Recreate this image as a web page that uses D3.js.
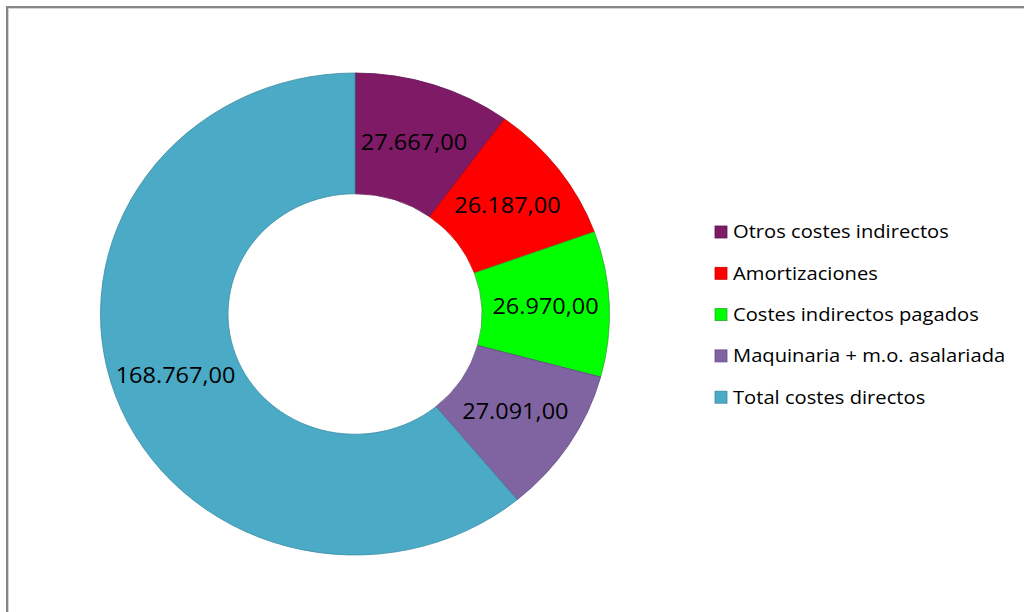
<!DOCTYPE html>
<html>
<head>
<meta charset="utf-8">
<script src="https://cdn.jsdelivr.net/npm/d3@7"></script>
<style>
  html, body { margin: 0; padding: 0; background: #fff; }
  svg { display: block; }
  text { font-family: "Open Sans", "Noto Sans", sans-serif; fill: #000; }
</style>
</head>
<body>
<svg id="chart" width="1024" height="612"></svg>
<script>
// Cost breakdown (euros), clockwise from twelve o'clock
const categories = [
  "Otros costes indirectos",
  "Amortizaciones",
  "Costes indirectos pagados",
  "Maquinaria + m.o. asalariada",
  "Total costes directos"
];
const values = [27667, 26187, 26970, 27091, 168767];
const colors = ["#7E1A66", "#FF0000", "#00FF00", "#8064A2", "#4BAAC5"];
const edgeColors = ["#5E1250", "#C80000", "#2EA82E", "#5F4A7E", "#3A8CA3"];

const svg = d3.select("#chart");

// Chart frame
svg.append("rect")
  .attr("x", 7).attr("y", 7).attr("width", 1040).attr("height", 640)
  .attr("fill", "none").attr("stroke", "#868686").attr("stroke-width", 2);
svg.append("rect")
  .attr("x", 8.5).attr("y", 8.5).attr("width", 1040).attr("height", 640)
  .attr("fill", "none").attr("stroke", "#d4d4d4").attr("stroke-width", 1);

const cx = 355, cy = 314;
const rOuter = 254.5, rInner = 127;
const yScale = 241 / 254.5;   // ring is slightly squashed vertically

const pie = d3.pie().sort(null).value(d => d.value);
const arcs = pie(values.map((v, i) => ({ name: categories[i], value: v, i })));

const arc = d3.arc().innerRadius(rInner).outerRadius(rOuter);

const ring = svg.append("g")
  .attr("transform", `translate(${cx},${cy}) scale(1,${yScale})`);

ring.selectAll("path")
  .data(arcs)
  .join("path")
  .attr("d", arc)
  .attr("fill", d => colors[d.data.i])
  .attr("stroke", d => edgeColors[d.data.i])
  .attr("stroke-width", 0.8)
  .attr("vector-effect", "non-scaling-stroke");

// Value labels centred in each segment
const fmt = v => d3.format(",.2f")(v).replace(/,/g, "#").replace(".", ",").replace(/#/g, ".");
const labelArc = d3.arc().innerRadius((rInner + rOuter) / 2).outerRadius((rInner + rOuter) / 2);

svg.append("g")
  .selectAll("text")
  .data(arcs)
  .join("text")
  .attr("transform", d => {
    const [x, y] = labelArc.centroid(d);
    return `translate(${cx + x},${cy + y * yScale}) scale(1.12,1)`;
  })
  .attr("text-anchor", "middle")
  .attr("dy", "0.36em")
  .attr("font-size", 21)
  .text(d => fmt(d.data.value));

// Legend
const legend = svg.append("g").attr("transform", "translate(715,232)");
const rowStep = 41.3;
const rows = legend.selectAll("g")
  .data(categories)
  .join("g")
  .attr("transform", (d, i) => `translate(0,${i * rowStep})`);

rows.append("rect")
  .attr("x", 0).attr("y", -6).attr("width", 12).attr("height", 12)
  .attr("fill", (d, i) => colors[i])
  .attr("stroke", (d, i) => edgeColors[i])
  .attr("stroke-width", 0.8);

rows.append("text")
  .attr("transform", "translate(18,0) scale(1.12,1)")
  .attr("dy", "0.36em")
  .attr("font-size", 18)
  .text(d => d);
</script>
</body>
</html>
